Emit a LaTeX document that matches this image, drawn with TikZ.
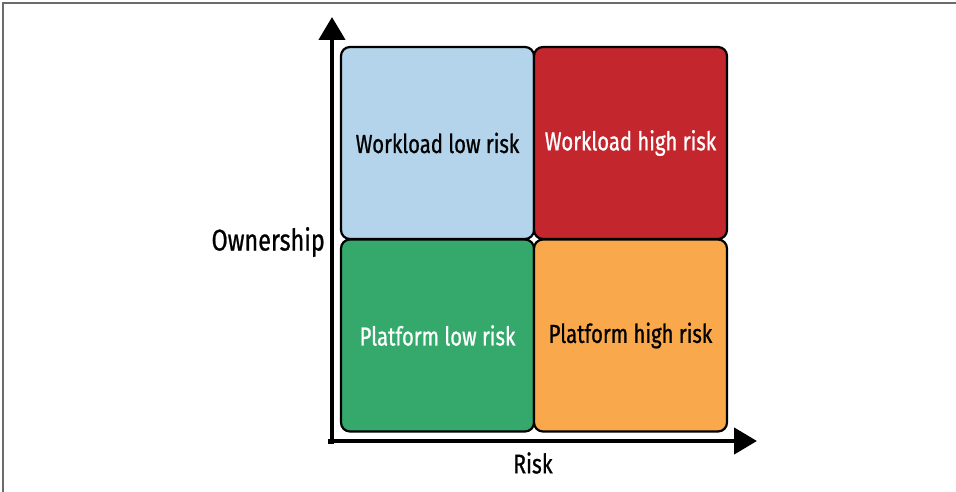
\documentclass[tikz,border=0pt]{standalone}
\usepackage{fontspec}
\setmainfont[FakeStretch=0.78,FakeBold=0.8]{Fira Sans}
\usetikzlibrary{arrows.meta}
\definecolor{lowblue}{HTML}{B3D4EA}
\definecolor{highred}{HTML}{C4262E}
\definecolor{lowgreen}{HTML}{35A96B}
\definecolor{highorange}{HTML}{F9A94B}
\definecolor{framegray}{HTML}{6B6B6B}
\tikzset{
  quadrant/.style={draw=black, line width=2.2pt, rounded corners=9pt,
    minimum width=193pt, minimum height=192pt, inner sep=0pt, outer sep=0pt,
    font=\fontsize{26}{30}\selectfont},
  axis/.style={line width=4.5pt, -{Triangle[width=26pt,length=23pt]}},
  axislabel/.style={inner sep=0pt}
}
\begin{document}
\begin{tikzpicture}[x=1pt, y=-1pt, line cap=butt, line join=miter]
  \useasboundingbox (0,0) rectangle (956,492);
  % frame
  \draw[framegray, line width=1.5pt] (956,3)--(3,3)--(3,492);
  % quadrants
  \node[quadrant, fill=lowblue, text=black] (wl) at (437.5,143) {Workload low risk};
  \node[quadrant, fill=highred, text=white] (wh) at (630.5,143) {Workload high risk};
  \node[quadrant, fill=lowgreen, text=white] (pl) at (437.5,335.5) {Platform low risk};
  \node[quadrant, fill=highorange, text=black] (ph) at (630.5,335.5) {Platform high risk};
  % axes
  \coordinate (origin) at (332,443.5);
  \coordinate (ytip) at (332,17);
  \coordinate (xtip) at (757,441);
  \draw[axis] (origin) -- (ytip);
  \draw[axis] (origin -| 329.75,0) |- (xtip);
  \node[axislabel, anchor=east, font=\fontsize{30}{34}\selectfont] (own) at (325,242) {Ownership};
  \node[axislabel, font=\fontsize{27}{30}\selectfont] (risk) at (533,463) {Risk};
\end{tikzpicture}
\end{document}
